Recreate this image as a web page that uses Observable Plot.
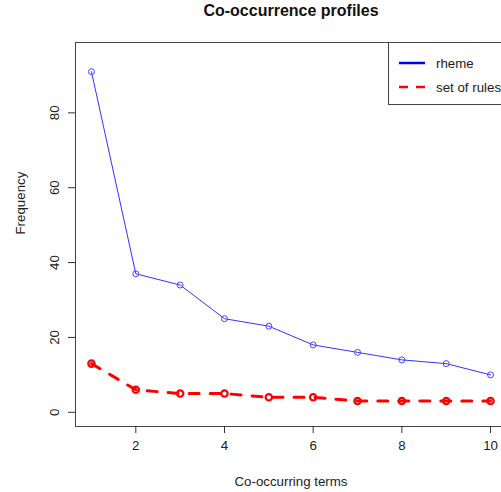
<!DOCTYPE html>
<html>
<head>
<meta charset="utf-8">
<script src="https://cdn.jsdelivr.net/npm/d3@7"></script>
<script src="https://cdn.jsdelivr.net/npm/@observablehq/plot@0.6"></script>
<style>
  html, body { margin: 0; padding: 0; background: white; overflow: hidden; }
  #wrap { position: relative; width: 501px; height: 492px; overflow: hidden; font-family: "Liberation Sans", Arial, Helvetica, sans-serif; }
  #legend { position: absolute; left: 388px; top: 42px; width: 130px; height: 63px; box-sizing: border-box; border: 1px solid #444; background: white; }
</style>
</head>
<body>
<div id="wrap"><div id="legend"></div></div>
<script>
const terms = [1, 2, 3, 4, 5, 6, 7, 8, 9, 10];
const rheme = [91, 37, 34, 25, 23, 18, 16, 14, 13, 10];
const setOfRules = [13, 6, 5, 5, 4, 4, 3, 3, 3, 3];
const seriesNames = ["rheme", "set of rules"];
const xTicks = [2, 4, 6, 8, 10];
const yTicks = [0, 20, 40, 60, 80];
const titleText = "Co-occurrence profiles";
const xLabel = "Co-occurring terms";
const yLabel = "Frequency";

const rhemeData = terms.map((t, i) => ({x: t, y: rheme[i]}));
const rulesData = terms.map((t, i) => ({x: t, y: setOfRules[i]}));

const font = '"Liberation Sans", Arial, Helvetica, sans-serif';
const fs = 13.3;

const chart = Plot.plot({
  width: 506,
  height: 492,
  marginTop: 42,
  marginBottom: 66,
  marginLeft: 75,
  marginRight: 0,
  style: {fontFamily: font, fontSize: fs + "px", color: "black", background: "white", maxWidth: "none", overflow: "visible"},
  x: {domain: [0.64, 10.36]},
  y: {domain: [-3.8, 98.8]},
  marks: [
    Plot.frame({stroke: "#444"}),
    Plot.axisX({ticks: xTicks, tickSize: 7, tickPadding: 7, label: null, stroke: "#333", fill: "#222", fontSize: fs}),
    Plot.axisY({ticks: yTicks, tickSize: 7, tickFormat: () => "", label: null, stroke: "#333"}),
    Plot.text(yTicks, {frameAnchor: "left", y: d => d, text: d => String(d), rotate: -90, textAnchor: "middle", lineAnchor: "bottom", dx: -16.5, fill: "#222", fontSize: fs}),
    Plot.line(rhemeData, {x: "x", y: "y", stroke: "#3333ff", strokeWidth: 1}),
    Plot.dot(rhemeData, {x: "x", y: "y", r: 3, stroke: "#4444ff", strokeWidth: 1, fill: "none"}),
    Plot.line(rulesData, {x: "x", y: "y", stroke: "#ff0000", strokeWidth: 3, strokeDasharray: "10,11", strokeLinecap: "round"}),
    Plot.dot(rulesData, {x: "x", y: "y", r: 3.2, stroke: "#ff0000", strokeWidth: 2.2, fill: "none"}),
    Plot.text([titleText], {frameAnchor: "top", text: d => d, dy: -31.5, fontSize: 16, fontWeight: "bold", fill: "#111", lineAnchor: "middle"}),
    Plot.text([xLabel], {frameAnchor: "bottom", text: d => d, dy: 55, fontSize: fs, fill: "#222", lineAnchor: "middle"}),
    Plot.text([yLabel], {frameAnchor: "left", text: d => d, dx: -55, rotate: -90, fontSize: fs, fill: "#222", lineAnchor: "middle"})
  ]
});
const wrap = document.getElementById("wrap");
wrap.insertBefore(chart, wrap.firstChild);
chart.style.position = "absolute";
chart.style.left = "0px";
chart.style.top = "0px";

// legend
const colors = ["#0000ff", "#ff0000"];
const lsvg = d3.select("#legend").append("svg").attr("width", 130).attr("height", 63).style("display", "block");
seriesNames.forEach((name, i) => {
  const yy = 20 + i * 24;
  const ln = lsvg.append("line").attr("x1", 10).attr("x2", 36).attr("y1", yy).attr("y2", yy)
    .attr("stroke", colors[i]).attr("stroke-width", 2.5);
  if (i === 1) ln.attr("stroke-dasharray", "9,8");
  lsvg.append("text").attr("x", 47).attr("y", yy).attr("dy", "0.35em")
    .attr("font-family", font).attr("font-size", fs).attr("fill", "#222").text(name);
});
</script>
</body>
</html>
